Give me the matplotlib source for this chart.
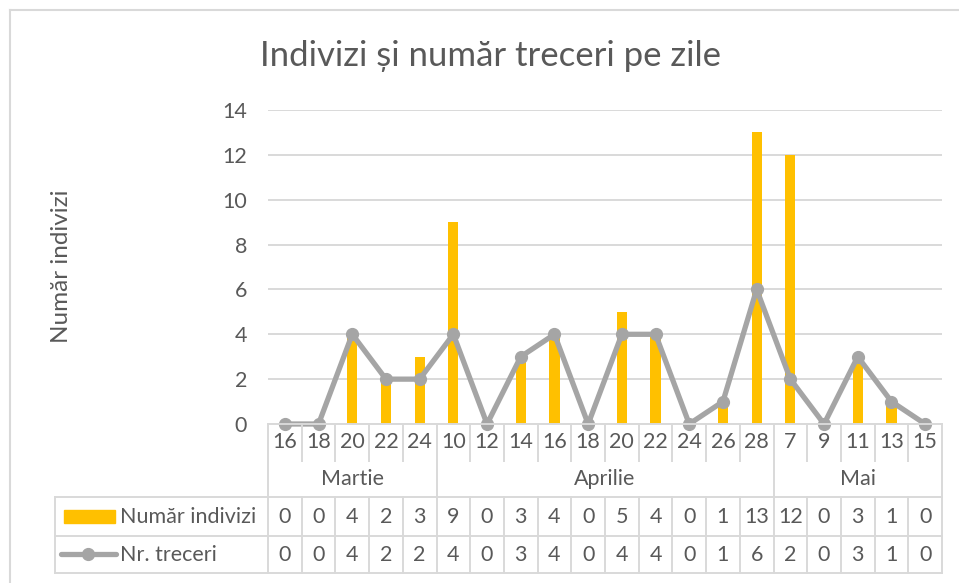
import matplotlib
matplotlib.use("Agg")
import matplotlib.pyplot as plt
from matplotlib.transforms import blended_transform_factory
from matplotlib.lines import Line2D
from matplotlib.patches import Rectangle

plt.rcParams['font.family'] = ['Lato', 'DejaVu Sans']

months = ["Martie", "Aprilie", "Mai"]
days = ["16", "18", "20", "22", "24",
        "10", "12", "14", "16", "18", "20", "22", "24", "26", "28",
        "7", "9", "11", "13", "15"]
month_counts = [5, 10, 5]
indivizi = [0, 0, 4, 2, 3, 9, 0, 3, 4, 0, 5, 4, 0, 1, 13, 12, 0, 3, 1, 0]
treceri = [0, 0, 4, 2, 2, 4, 0, 3, 4, 0, 4, 4, 0, 1, 6, 2, 0, 3, 1, 0]
series_names = ["Număr indivizi", "Nr. treceri"]
title = "Indivizi și număr treceri pe zile"
ylabel = "Număr indivizi"

W, H = 959, 583
TXT = '#595959'
GRID = '#D9D9D9'
BAR = '#FFC000'
LINE = '#A5A5A5'
FS = 15.5

def fx(p):
    return p / W

def fy(p):
    return 1 - p / H

fig = plt.figure(figsize=(W / 100, H / 100), dpi=100)
ax = fig.add_axes([fx(268), fy(424), (942 - 268) / W, (424 - 110) / H])

x = list(range(len(days)))
ax.bar(x, indivizi, width=0.3, color=BAR, zorder=2)
ax.plot(x, treceri, color=LINE, lw=3.8, marker='o', ms=8.5, zorder=3,
        clip_on=False, solid_capstyle='round')

ax.set_xlim(-0.5, len(days) - 0.5)
ax.set_ylim(0, 14)
ax.set_yticks(range(0, 15, 2))
ax.set_xticks([])
ax.yaxis.grid(True, color=GRID, lw=1.4, zorder=0)
ax.set_axisbelow(True)
for s in ax.spines.values():
    s.set_visible(False)
ax.tick_params(axis='y', length=0, pad=15, labelsize=FS, labelcolor=TXT)

fig.text(fx(62), fy(266), ylabel, rotation=90, ha='center', va='center',
         fontsize=17.5, color=TXT)
fig.text(fx(490), fy(56), title, ha='center', va='center', fontsize=25,
         color=TXT)

bt = blended_transform_factory(ax.transData, fig.transFigure)

def hline(y, x0, x1):
    fig.add_artist(Line2D([fx(x0), fx(x1)], [fy(y), fy(y)], color=GRID, lw=1.4,
                          transform=fig.transFigure, zorder=1))

def vline_data(xd, y0, y1):
    fig.add_artist(Line2D([xd, xd], [fy(y0), fy(y1)], color=GRID, lw=1.4,
                          transform=bt, zorder=1))

# axis line and table horizontal lines
hline(424, 268, 942)
hline(497, 55, 942)
hline(536, 55, 942)
hline(573, 55, 942)
fig.add_artist(Line2D([fx(55), fx(55)], [fy(497), fy(573)], color=GRID, lw=1.4,
                      transform=fig.transFigure))

# month boundaries
bounds = [0]
for c in month_counts:
    bounds.append(bounds[-1] + c)
n = len(days)
for k in range(n + 1):
    xd = k - 0.5
    if k in bounds:
        vline_data(xd, 424, 573)
    else:
        vline_data(xd, 424, 461)
        vline_data(xd, 497, 573)

# category labels
for i, d in enumerate(days):
    fig.text(i, fy(442), d, transform=bt, ha='center', va='center',
             fontsize=FS, color=TXT)
for m, b0, b1 in zip(months, bounds[:-1], bounds[1:]):
    fig.text((b0 + b1 - 1) / 2, fy(479), m, transform=bt, ha='center',
             va='center', fontsize=FS, color=TXT)
for i, (a, b) in enumerate(zip(indivizi, treceri)):
    fig.text(i, fy(517), str(a), transform=bt, ha='center', va='center',
             fontsize=FS, color=TXT)
    fig.text(i, fy(555), str(b), transform=bt, ha='center', va='center',
             fontsize=FS, color=TXT)

# legend keys
fig.add_artist(Rectangle((fx(64), fy(523)), fx(115) - fx(64), fy(510) - fy(523),
                         color=BAR, transform=fig.transFigure))
fig.add_artist(Line2D([fx(61), fx(116)], [fy(554), fy(554)], color=LINE, lw=3.8,
                      transform=fig.transFigure, solid_capstyle='round'))
fig.add_artist(Line2D([fx(88)], [fy(554)], color=LINE, marker='o', ms=8.5,
                      transform=fig.transFigure))
fig.text(fx(120), fy(517), series_names[0], ha='left', va='center', fontsize=FS,
         color=TXT)
fig.text(fx(120), fy(555), series_names[1], ha='left', va='center', fontsize=FS,
         color=TXT)

# chart border
fig.add_artist(Line2D([fx(10), fx(959)], [fy(10), fy(10)], color=GRID, lw=1.5,
                      transform=fig.transFigure))
fig.add_artist(Line2D([fx(10), fx(10)], [fy(10), fy(583)], color=GRID, lw=1.5,
                      transform=fig.transFigure))

fig.savefig("out.png", dpi=100)
